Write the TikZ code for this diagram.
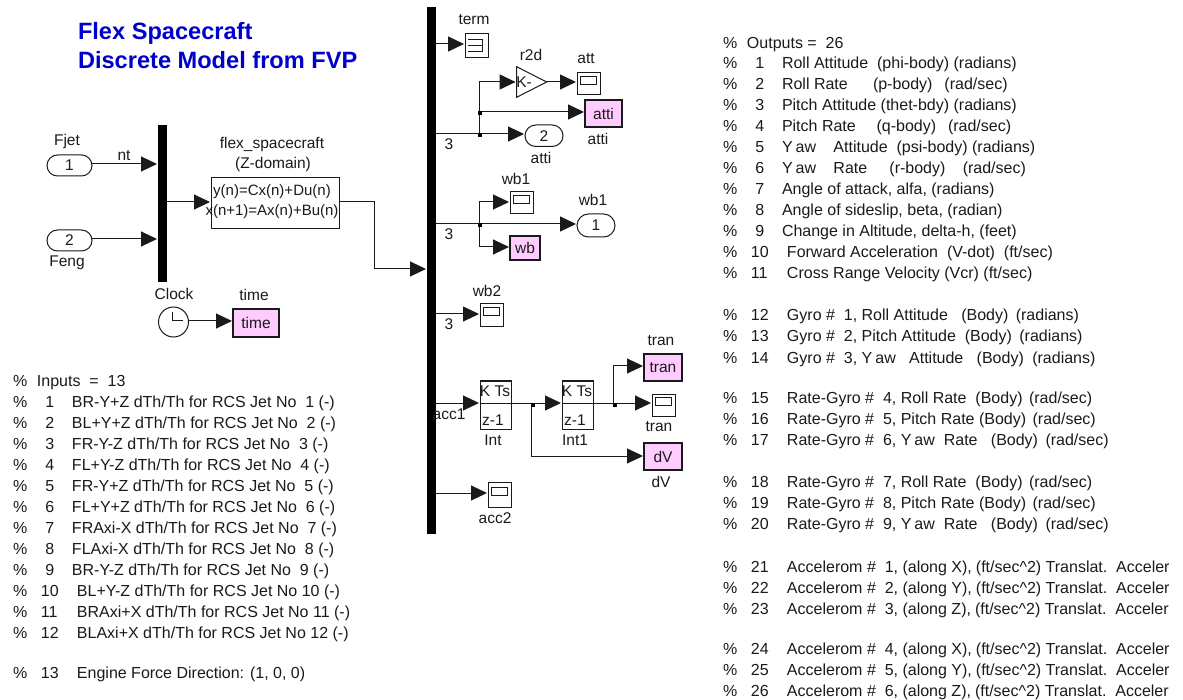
\documentclass[tikz,border=0pt]{standalone}
\usepackage{fontspec}
\setmainfont{Liberation Sans}
\usetikzlibrary{arrows.meta,shapes.misc,shapes.geometric}
\definecolor{gotopink}{HTML}{FFCCFF}
\definecolor{titleblue}{HTML}{0000CC}
\definecolor{ink}{HTML}{1A1A1A}
\tikzset{
  base/.style={inner sep=0pt,outer sep=0pt,line width=1pt,draw=ink,text=ink,font=\fontsize{15.5}{18}\selectfont},
  goto/.style={base,rectangle,fill=gotopink,line width=1.1pt},
  pill/.style={base,rounded rectangle},
  busbar/.style={inner sep=0pt,outer sep=0pt,fill=black,rectangle},
  lab/.style={inner sep=0pt,outer sep=0pt,text=ink,font=\fontsize{15.5}{18}\selectfont},
  blocktext/.style={inner sep=0pt,outer sep=0pt,text=ink,font=\fontsize{15}{18}\selectfont},
  wire/.style={line width=1pt,draw=ink},
  arr/.style={wire,-{Triangle[length=16pt,width=15pt]},shorten >=1pt},
  junc/.style={inner sep=0pt,outer sep=0pt,fill=black,minimum size=4pt,rectangle},
  rowtext/.style={inner sep=0pt,outer sep=0pt,anchor=base west,text=ink,font=\fontsize{16}{18}\selectfont},
  titletext/.style={inner sep=0pt,outer sep=0pt,anchor=base west,text=titleblue,font=\fontsize{23.6}{28}\selectfont\bfseries},
}
% box given by left, top, right, bottom in pixels
\newcommand{\pxnode}[6]{%
  \pgfmathsetmacro{\cxx}{(#3+#5)/2}\pgfmathsetmacro{\cyy}{(#4+#6)/2}%
  \pgfmathsetmacro{\wdd}{#5-#3}\pgfmathsetmacro{\htt}{#6-#4}%
  \node[#1,minimum width=\wdd pt,minimum height=\htt pt] (#2) at (\cxx,\cyy)}
\newcommand{\scopeblk}[5]{%
  \pxnode{base,rectangle}{#1}{#2}{#3}{#4}{#5}{};%
  \node[base,rectangle,minimum width=16pt,minimum height=8pt] (#1-in) at ([yshift=3.5pt]#1.center) {};}
\newcommand{\tabrow}[4]{\node[rowtext] (#1) at (#2,#3) {\rlap{\%}\hspace{24pt}#4};}
\newcommand{\inrow}[3]{\node[rowtext] (in#1) at (13,#2) {\rlap{\%}\hspace{28pt}\rlap{\ #1}\hspace{31pt}#3};}
\newcommand{\inrowd}[3]{\node[rowtext] (in#1) at (13,#2) {\rlap{\%}\hspace{28pt}\rlap{#1}\hspace{36pt}#3};}
\newcommand{\outrow}[3]{\node[rowtext] (out#1) at (723,#2) {\rlap{\%}\hspace{28pt}\rlap{\ #1}\hspace{31pt}#3};}
\newcommand{\outrowd}[3]{\node[rowtext] (out#1) at (723,#2) {\rlap{\%}\hspace{28pt}\rlap{#1}\hspace{36pt}#3};}
\newcommand{\Yw}{Y\kern3pt aw}
\newcommand{\accelrest}{\hspace{4pt}(ft/sec\^{}2) Translat.\ \ Acceler}
\begin{document}
\begin{tikzpicture}[x=1pt,y=-1pt]
\useasboundingbox (0,0) rectangle (1183,700);

% title
\node[titletext] (title1) at (78,40) {Flex Spacecraft};
\node[titletext] (title2) at (78,69) {Discrete Model from FVP};

% input side
\pxnode{pill}{fjet}{47}{155}{92}{176}{1};
\pxnode{pill}{feng}{47}{230}{92}{251}{2};
\pxnode{busbar}{mux}{158}{125}{167}{282}{};
\pxnode{base,rectangle}{flex}{211}{178}{339}{229}{};
\node[blocktext] (flextop) at (272,192) {y(n)=Cx(n)+Du(n)};
\node[blocktext] (flexbot) at (272,212) {x(n+1)=Ax(n)+Bu(n)};
\node[lab] (fjetlab) at (67,141) {Fjet};
\node[lab] (fenglab) at (67,263) {Feng};
\node[lab] (ntlab) at (124,156) {nt};
\node[lab] (flexlab) at (272,144) {flex\_spacecraft};
\node[lab] (zdomlab) at (273,164) {(Z-domain)};

\coordinate (fjetw) at (92,164);
\coordinate (fengw) at (92,239);
\draw[arr] (fjetw) -- (fjetw -| mux.west);
\draw[arr] (fengw) -- (fengw -| mux.west);
\coordinate (muxout) at (167,202);
\draw[arr] (muxout) -- (muxout -| flex.west);

% clock
\node[base,circle,minimum size=30pt] (clock) at (173.5,322) {};
\draw[wire] (172,312) -- (172,321) -- (183,321);
\pxnode{goto}{timeg}{233}{309}{279}{337}{time};
\node[lab] (clocklab) at (174,294) {Clock};
\node[lab] (timelab) at (254,295) {time};
\coordinate (clockw) at (clock.east |- 0,321);
\draw[arr] (clockw) -- (clockw -| timeg.west);

% main bus
\pxnode{busbar}{bus}{427}{7}{436}{534}{};
\coordinate (flexout) at (339,202);
\coordinate (flexbend) at (374,202);
\coordinate (busin) at (374,269);
\draw[arr] (flexout) -- (flexbend) -- (busin) -- (busin -| bus.west);

% terminator
\pxnode{base,rectangle}{term}{465}{34}{488}{58}{};
\draw[wire] (468,40) -- (482.5,40) -- (482.5,52) -- (468,52) (468,46) -- (482.5,46);
\node[lab] (termlab) at (474,20) {term};
\coordinate (termw) at (436,44);
\draw[arr] (termw) -- (termw -| term.west);

% attitude branch
\node[base,isosceles triangle,isosceles triangle apex angle=54,minimum height=30pt,minimum width=30pt,shape border rotate=0] (gain) at (526,82) {};
\node[lab] (gaink) at (524,82) {K-};
\scopeblk{att}{577}{73}{600}{94.5}
\pxnode{goto}{attig}{585}{100}{622}{127}{atti};
\pxnode{pill}{attio}{525}{125}{563}{146.5}{2};
\node[lab] (r2dlab) at (531,55) {r2d};
\node[lab] (attlab) at (586,59) {att};
\node[lab] (attiglab) at (598,139) {atti};
\node[lab] (attiolab) at (541,158) {atti};
\node[lab] (n3a) at (449,144) {3};
\coordinate (j1top) at (479,82);
\coordinate (j2) at (479,112);
\coordinate (j3) at (479,134);
\coordinate (busa) at (436,134);
\draw[arr] (busa) -- (busa -| attio.west);
\draw[arr] (j3) -- (j1top) -- (j1top -| gain.left corner);
\draw[arr] (j2) -- (j2 -| attig.west);
\draw[arr] (gain.apex) -- (gain.apex -| att.west);
\node[junc] (ja) at (480,113.5) {};
\node[junc] (jb) at (480,135.5) {};

% wb1 branch
\scopeblk{wbs}{510}{192}{533}{214}
\pxnode{goto}{wbg}{510}{236}{540}{260}{wb};
\pxnode{pill}{wbo}{577}{214}{615}{237}{1};
\node[lab] (wbslab) at (516,179) {wb1};
\node[lab] (wbolab) at (593,200) {wb1};
\node[lab] (n3b) at (449,234) {3};
\coordinate (busb) at (436,224);
\coordinate (j4) at (479,224);
\coordinate (j4a) at (479,202);
\coordinate (j4b) at (479,247);
\draw[arr] (busb) -- (busb -| wbo.west);
\draw[arr] (j4) -- (j4a) -- (j4a -| wbs.west);
\draw[arr] (j4) -- (j4b) -- (j4b -| wbg.west);
\node[junc] (jc) at (480,225.5) {};

% wb2
\scopeblk{wbt}{480}{304}{503}{327}
\node[lab] (wbtlab) at (487,291) {wb2};
\node[lab] (n3c) at (449,324) {3};
\coordinate (busc) at (436,314);
\draw[arr] (busc) -- (busc -| wbt.west);

% integrators
\pxnode{base,rectangle}{int}{480}{381}{511}{429}{};
\pxnode{base,rectangle}{inta}{562}{381}{593}{429}{};
\draw[wire] (int.west |- 0,403) -- (int.east |- 0,403);
\draw[wire] (inta.west |- 0,403) -- (inta.east |- 0,403);
\node[lab] (intn) at (495,391) {K Ts};
\node[lab] (intd) at (493,420) {z-1};
\node[lab] (intan) at (577,391) {K Ts};
\node[lab] (intad) at (575,420) {z-1};
\node[lab] (intlab) at (493,440) {Int};
\node[lab] (intalab) at (575,440) {Int1};
\node[lab] (acclab) at (449,414) {acc1};
\coordinate (busd) at (436,403);
\draw[arr] (busd) -- (busd -| int.west);
\coordinate (intout) at (511,403);
\draw[arr] (intout) -- (intout -| inta.west);
\pxnode{goto}{trang}{644}{354}{682}{381}{tran};
\pxnode{goto}{dvg}{644}{443}{682}{470}{dV};
\scopeblk{trans}{652}{394}{675}{416}
\node[lab] (tranglab) at (661,341) {tran};
\node[lab] (translab) at (659,427) {tran};
\node[lab] (dvlab) at (661,482) {dV};
\coordinate (int1out) at (593,403);
\coordinate (j5) at (613,403);
\coordinate (j5t) at (613,366);
\coordinate (j6) at (531,403);
\coordinate (j6b) at (531,456);
\draw[arr] (int1out) -- (int1out -| trans.west);
\draw[arr] (j5) -- (j5t) -- (j5t -| trang.west);
\draw[arr] (j6) -- (j6b) -- (j6b -| dvg.west);
\node[junc] (jd) at (532.5,404.5) {};
\node[junc] (je) at (614.5,404.5) {};

% acc2
\scopeblk{acc}{488}{482}{511}{507}
\node[lab] (acclabb) at (495,518) {acc2};
\coordinate (buse) at (436,493);
\draw[arr] (buse) -- (buse -| acc.west);

% inputs table
\tabrow{ia}{13}{387}{Inputs\ \ =\ \ 13}
\inrow{1}{407}{BR-Y+Z dTh/Th for RCS Jet No\ \ 1 (-)}
\inrow{2}{428}{BL+Y+Z dTh/Th for RCS Jet No\ \ 2 (-)}
\inrow{3}{449}{FR-Y-Z dTh/Th for RCS Jet No\ \ 3 (-)}
\inrow{4}{470}{FL+Y-Z dTh/Th for RCS Jet No\ \ 4 (-)}
\inrow{5}{491}{FR-Y+Z dTh/Th for RCS Jet No\ \ 5 (-)}
\inrow{6}{512}{FL+Y+Z dTh/Th for RCS Jet No\ \ 6 (-)}
\inrow{7}{533}{FRAxi-X dTh/Th for RCS Jet No\ \ 7 (-)}
\inrow{8}{554}{FLAxi-X dTh/Th for RCS Jet No\ \ 8 (-)}
\inrow{9}{575}{BR-Y-Z dTh/Th for RCS Jet No\ \ 9 (-)}
\inrowd{10}{596}{BL+Y-Z dTh/Th for RCS Jet No 10 (-)}
\inrowd{11}{617}{BRAxi+X dTh/Th for RCS Jet No 11 (-)}
\inrowd{12}{638}{BLAxi+X dTh/Th for RCS Jet No 12 (-)}
\inrowd{13}{678}{Engine Force Direction: (1, 0, 0)}

% outputs table
\tabrow{oa}{723}{49}{Outputs =\ \ 26}
\outrow{1}{69}{Roll Attitude\ \ (phi-body) (radians)}
\outrow{2}{90}{Roll Rate\ \ \ \ \ \kern3pt(p-body)\ \ \kern3pt(rad/sec)}
\outrow{3}{111}{Pitch Attitude (thet-bdy) (radians)}
\outrow{4}{132}{Pitch Rate\ \ \ \ \kern3pt(q-body)\ \ \kern3pt(rad/sec)}
\outrow{5}{153}{\Yw\ \ \ \kern4pt Attitude\ \ (psi-body) (radians)}
\outrow{6}{174}{\Yw\ \ \ \kern4pt Rate\ \ \ \ \ (r-body)\ \ \ \kern4pt(rad/sec)}
\outrow{7}{195}{Angle of attack, alfa, (radians)}
\outrow{8}{216}{Angle of sideslip, beta, (radian)}
\outrow{9}{237}{Change in Altitude, delta-h, (feet)}
\outrowd{10}{258}{Forward Acceleration\ \ (V-dot)\ \ (ft/sec)}
\outrowd{11}{279}{Cross Range Velocity (Vcr) (ft/sec)}
\outrowd{12}{321}{Gyro \#\ \ 1, Roll Attitude\ \ \ (Body)\kern3pt\ (radians)}
\outrowd{13}{342}{Gyro \#\ \ 2, Pitch Attitude\ \ (Body)\kern3pt\ (radians)}
\outrowd{14}{363}{Gyro \#\ \ 3, \Yw\ \ \ Attitude\ \ \ (Body)\kern4pt\ (radians)}
\outrowd{15}{403}{Rate-Gyro \#\ \ 4, Roll Rate\ \ (Body)\kern2pt\ (rad/sec)}
\outrowd{16}{424}{Rate-Gyro \#\ \ 5, Pitch Rate (Body)\kern2pt\ (rad/sec)}
\outrowd{17}{445}{Rate-Gyro \#\ \ 6, \Yw\ \ Rate\ \ \ (Body)\kern3pt\ (rad/sec)}
\outrowd{18}{487}{Rate-Gyro \#\ \ 7, Roll Rate\ \ (Body)\kern2pt\ (rad/sec)}
\outrowd{19}{508}{Rate-Gyro \#\ \ 8, Pitch Rate (Body)\kern2pt\ (rad/sec)}
\outrowd{20}{529}{Rate-Gyro \#\ \ 9, \Yw\ \ Rate\ \ \ (Body)\kern3pt\ (rad/sec)}
\outrowd{21}{572}{Accelerom \#\ \ 1, (along X),\accelrest}
\outrowd{22}{593}{Accelerom \#\ \ 2, (along Y),\accelrest}
\outrowd{23}{614}{Accelerom \#\ \ 3, (along Z),\accelrest}
\outrowd{24}{654}{Accelerom \#\ \ 4, (along X),\accelrest}
\outrowd{25}{675}{Accelerom \#\ \ 5, (along Y),\accelrest}
\outrowd{26}{696}{Accelerom \#\ \ 6, (along Z),\accelrest}
\end{tikzpicture}
\end{document}
